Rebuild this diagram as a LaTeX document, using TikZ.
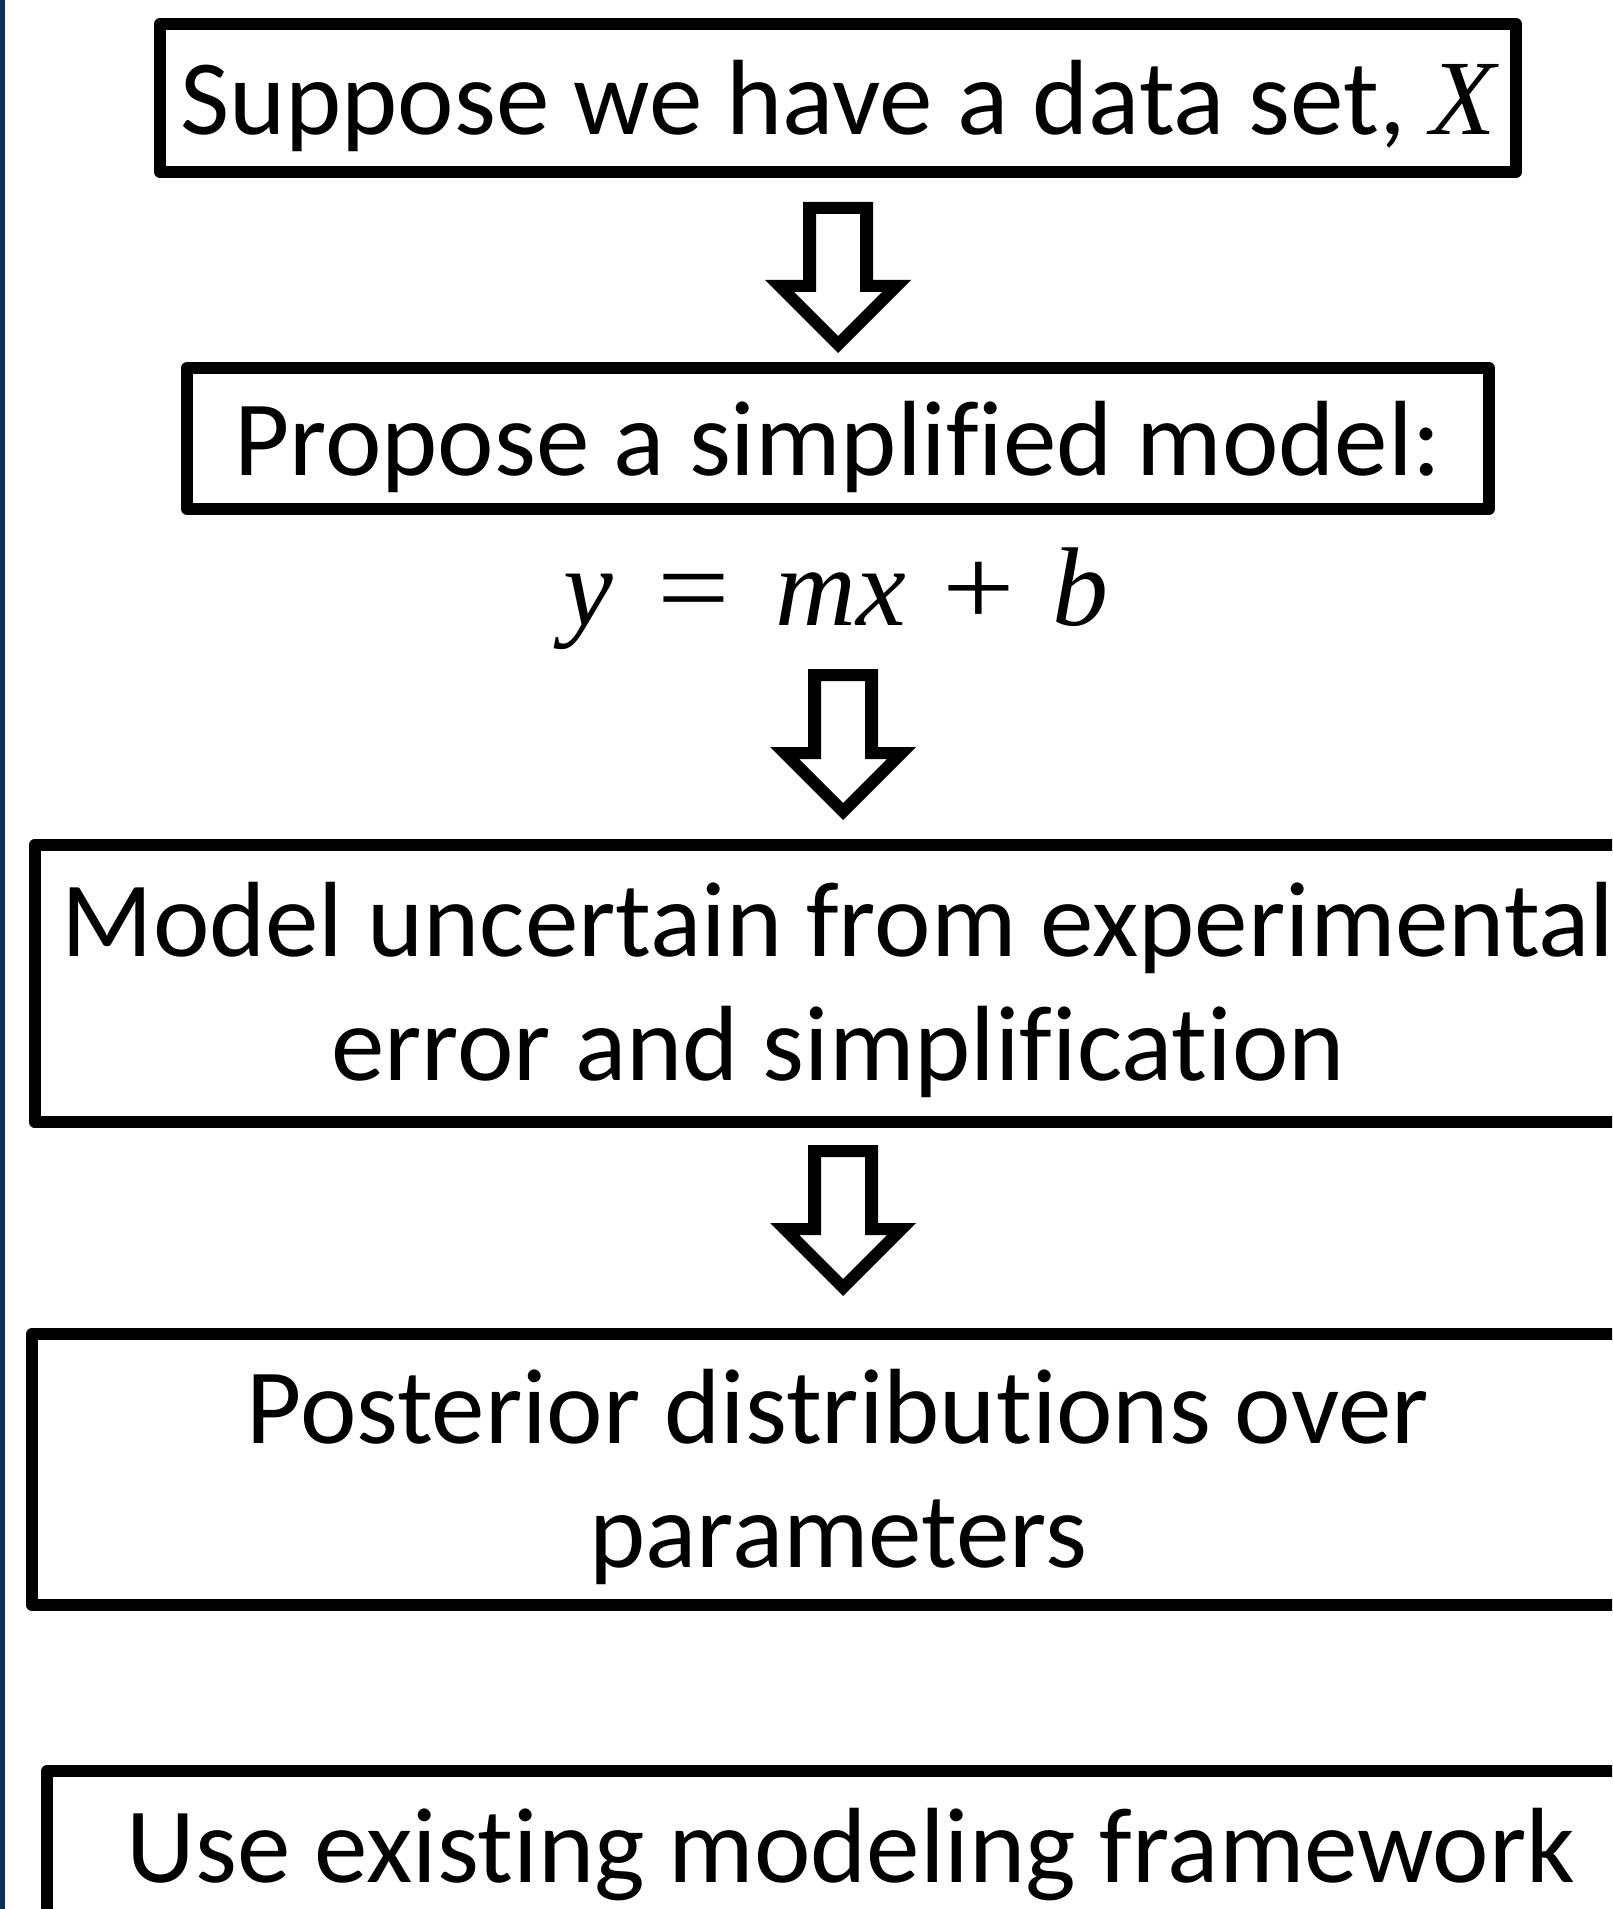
\documentclass[tikz,border=0pt]{standalone}
\usepackage{fontspec}
\setmainfont[Ligatures=NoCommon]{Carlito}
\newfontfamily\mvfont{Liberation Serif}
\newcommand{\mvar}[1]{{\mvfont\itshape #1}}
\newcommand{\mop}[1]{{\mvfont #1}}
\definecolor{navybar}{HTML}{0B2F5A}
\begin{document}
\begin{tikzpicture}[x=0.5pt,y=-0.5pt,
  box/.style={draw=black, line width=6pt, line join=round, rectangle, inner sep=0pt, align=center,
    font=\fontsize{53.5pt}{62pt}\selectfont},
  downarrow/.pic={
    \fill[black, even odd rule]
      (-35,0)--(35,0)--(35,78)--(73,78)--(0,151)--(-73,78)--(-35,78)--cycle
      (-22,12)--(22,12)--(22,90)--(44,90)--(0,134)--(-44,90)--(-22,90)--cycle;
  }]
\useasboundingbox (0,0) rectangle (1612,1909);
\clip (0,0) rectangle (1612,1909);
\fill[white] (0,0) rectangle (1612,1909);
\fill[navybar] (0,0) rectangle (4.5,1909);

\node[box, minimum width=678pt, minimum height=74pt, text height=48pt, text depth=11pt]
  (b1) at (838,98) {Suppose we have a data set, \mvar{X}};
\node[box, minimum width=651pt, minimum height=70.5pt, text height=48pt, text depth=11.5pt]
  (b2) at (838,438.5) {Propose a simplified model:};
\node[font=\fontsize{56pt}{62pt}\selectfont, inner sep=0pt, anchor=base]
  (eq) at (836,625) {\mvar{y}\hspace{0.40em}\scalebox{1.15}[1]{\mop{=}}\hspace{0.40em}\mvar{mx}\hspace{0.33em}\scalebox{1.15}[1]{\mop{+}}\hspace{0.33em}\mvar{b}};
\node[box, minimum width=803.5pt, minimum height=138.5pt, text height=110pt, text depth=13.5pt]
  (b3) at (838,983.5) {Model uncertain from experimental\\error and simplification};
\node[box, minimum width=806pt, minimum height=135.5pt, text height=110pt, text depth=12.5pt]
  (b4) at (838,1469.5) {Posterior distributions over\\parameters};
\node[box, minimum width=804pt, minimum height=300pt, text height=45pt, text depth=234pt]
  (b5) at (851,2071) {Use existing modeling framework};

\pic (a1) at (838,202) {downarrow};
\pic (a2) at (843,669) {downarrow};
\pic (a3) at (843,1145) {downarrow};
\end{tikzpicture}
\end{document}
